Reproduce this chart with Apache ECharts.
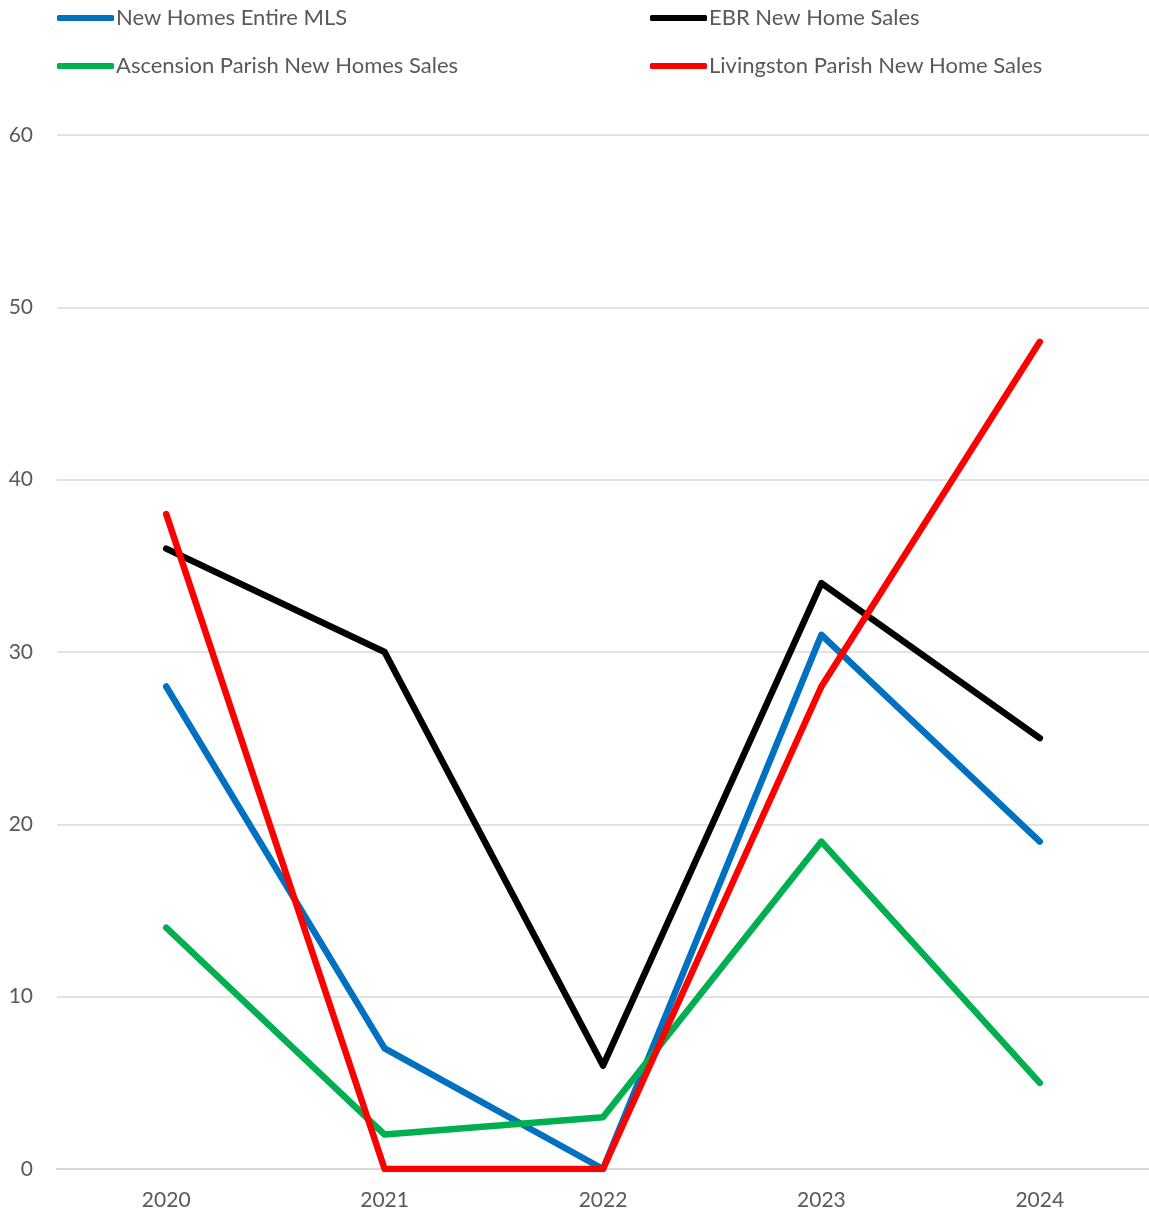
<!DOCTYPE html>
<html>
<head>
<meta charset="utf-8">
<script src="https://cdn.jsdelivr.net/npm/echarts@6/dist/echarts.min.js"></script>
<style>
html,body{margin:0;padding:0;background:#fff;}
#chart{width:1149px;height:1213px;}
</style>
</head>
<body>
<div id="chart"></div>
<script>
var categories = ['2020', '2021', '2022', '2023', '2024'];
var entireMLS = [28, 7, 0, 31, 19];
var ebrSales = [36, 30, 6, 34, 25];
var ascensionSales = [14, 2, 3, 19, 5];
var livingstonSales = [38, 0, 0, 28, 48];
var yTicks = [0, 10, 20, 30, 40, 50, 60];

var names = ['New Homes Entire MLS', 'EBR New Home Sales', 'Ascension Parish New Homes Sales', 'Livingston Parish New Home Sales'];
var colors = ['#0070C0', '#000000', '#00B050', '#FF0000'];
var datas = [entireMLS, ebrSales, ascensionSales, livingstonSales];

var chart = echarts.init(document.getElementById('chart'));
var font = 'Lato, "Open Sans", sans-serif';
var legendBase = {
  orient: 'vertical',
  top: 6,
  padding: 0,
  itemWidth: 57,
  itemHeight: 6,
  itemGap: 24,
  icon: 'roundRect',
  selectedMode: false,
  textStyle: {fontSize: 22, color: '#595959', fontFamily: font, lineHeight: 24, padding: [0,0,0,-3]}
};
chart.setOption({
  animation: false,
  color: colors,
  legend: [
    Object.assign({}, legendBase, {left: 57, data: [names[0], names[2]]}),
    Object.assign({}, legendBase, {left: 650, data: [names[1], names[3]]})
  ],
  grid: {left: 57, right: -5, top: 135, bottom: 44, containLabel: false},
  xAxis: {
    type: 'category',
    data: categories,
    boundaryGap: true,
    axisLine: {show: true, lineStyle: {color: '#D9D9D9', width: 2}},
    axisTick: {show: false},
    axisLabel: {fontSize: 21, color: '#595959', fontFamily: font, margin: 21}
  },
  yAxis: {
    type: 'value',
    min: 0, max: 60, interval: 10,
    axisLine: {show: false},
    axisTick: {show: false},
    splitLine: {lineStyle: {color: '#D9D9D9', width: 1.5}},
    axisLabel: {fontSize: 21, color: '#595959', fontFamily: font, margin: 24,
      formatter: function(v){ return yTicks.indexOf(v) >= 0 ? String(v) : ''; }}
  },
  series: datas.map(function(d, i){
    return {
      name: names[i],
      type: 'line',
      data: d,
      symbol: 'none',
      lineStyle: {width: 6.5, color: colors[i], join: 'round', cap: 'round'},
      itemStyle: {color: colors[i]}
    };
  })
});
</script>
</body>
</html>
